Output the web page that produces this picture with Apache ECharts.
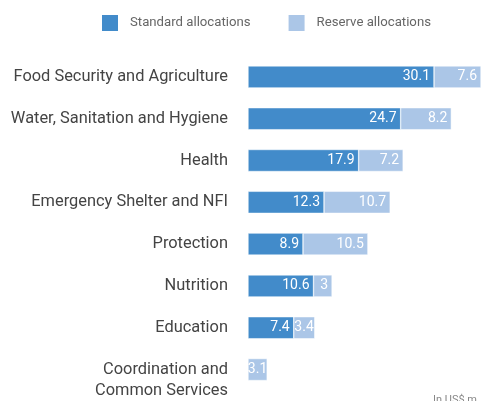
<!DOCTYPE html>
<html><head><meta charset="utf-8">
<script src="https://cdn.jsdelivr.net/npm/echarts@6/dist/echarts.min.js"></script>
<style>html,body{margin:0;padding:0;background:#fff}#c{width:481px;height:401px}</style>
</head><body><div id="c"></div>
<script>
const categories = ["Food Security and Agriculture","Water, Sanitation and Hygiene","Health","Emergency Shelter and NFI","Protection","Nutrition","Education","Coordination and\nCommon Services"];
const standard = [30.1, 24.7, 17.9, 12.3, 8.9, 10.6, 7.4, null];
const reserve = [7.6, 8.2, 7.2, 10.7, 10.5, 3, 3.4, 3.1];
const chart = echarts.init(document.getElementById('c'));
const lbl = {show:true, position:'insideRight', color:'#fff', fontFamily:'Roboto', fontSize:14, distance:4};
const reserveData = reserve.map((v, i) => {
  if (v === 3.1) return {value:v, label:{position:'inside'}};
  if (v === 3.4) return {value:v, label:{distance:1}};
  return v;
});
chart.setOption({
  animation:false,
  textStyle:{fontFamily:'Roboto'},
  legend:{top:13, left:100, padding:0, itemWidth:18, itemHeight:18, itemGap:36, icon:'rect',
    textStyle:{color:'#666', fontSize:13.2, fontFamily:'Roboto', padding:[0,0,0,6]}},
  grid:{left:248, top:56, width:234, height:335},
  xAxis:{type:'value', min:0, max:37.7, show:false},
  yAxis:{type:'category', data:categories, inverse:true,
    axisLine:{show:false}, axisTick:{show:false},
    axisLabel:{color:'#444', fontSize:16.4, margin:20, fontFamily:'Roboto', lineHeight:21,
      formatter: v => v.indexOf('\n') >= 0 ? '\n' + v : v}},
  graphic:[{type:'text', right:4, top:395, style:{text:'In US$ m', fill:'#888', fontSize:11, fontFamily:'Roboto'}}],
  series:[
    {name:'Standard allocations', type:'bar', stack:'a', data:standard, barWidth:22,
      itemStyle:{color:'#428bca', borderColor:'#fff', borderWidth:0.5}, label:lbl},
    {name:'Reserve allocations', type:'bar', stack:'a', data:reserveData, barWidth:22,
      itemStyle:{color:'#abc6e7', borderColor:'#fff', borderWidth:0.5}, label:lbl}
  ]
});
</script></body></html>
